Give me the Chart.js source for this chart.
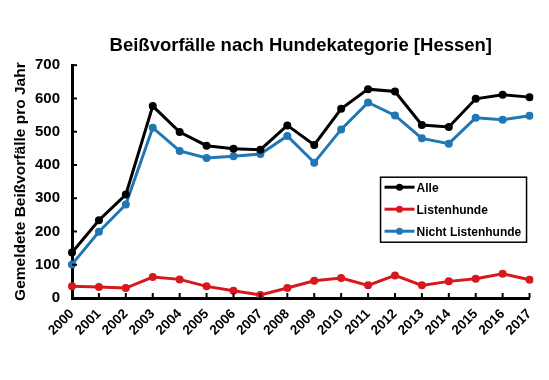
<!DOCTYPE html>
<html>
<head>
<meta charset="utf-8">
<script src="https://cdn.jsdelivr.net/npm/chart.js@4"></script>
<style>
  body { margin: 0; background: #fff; }
  #wrap { width: 549px; height: 380px; }
</style>
</head>
<body>
<div id="wrap"><canvas id="bissChart" width="549" height="380"></canvas></div>
<script>
// Daten
const jahre = ['2000', '2001', '2002', '2003', '2004', '2005', '2006', '2007', '2008',
    '2009', '2010', '2011', '2012', '2013', '2014', '2015', '2016', '2017'];
const alle = [137, 234, 311, 577, 499, 458, 449, 446, 519, 460, 569, 628, 621, 520, 514, 599, 611, 604];
const listenhunde = [35, 33, 30, 63, 56, 35, 22, 9, 30, 52, 60, 38, 68, 38, 50, 58, 73, 55];
const nichtListenhunde = [101, 199, 281, 512, 442, 421, 426, 433, 487, 407, 507, 588, 549, 480, 464, 542, 536, 548];
const yMin = 0, yMax = 700, yStep = 100;

const FONT = 'Liberation Sans, Arial, sans-serif';

// Striche nach innen zeichnen
const innenTicks = {
    id: 'innenTicks',
    afterDraw(chart) {
        const ctx = chart.ctx;
        const x = chart.scales.x, y = chart.scales.y;
        ctx.save();
        ctx.strokeStyle = '#000';
        ctx.lineWidth = 2;
        y.ticks.forEach(t => {
            const py = y.getPixelForValue(t.value);
            ctx.beginPath();
            ctx.moveTo(chart.chartArea.left, py);
            ctx.lineTo(chart.chartArea.left + 5, py);
            ctx.stroke();
        });
        jahre.forEach((j, i) => {
            const px = x.getPixelForValue(i);
            ctx.beginPath();
            ctx.moveTo(px, chart.chartArea.bottom);
            ctx.lineTo(px, chart.chartArea.bottom - 5);
            ctx.stroke();
        });
        ctx.restore();
    }
};

// Legende mit Rahmen im Diagramm
const kastenLegende = {
    id: 'kastenLegende',
    afterDraw(chart) {
        const ctx = chart.ctx;
        const area = chart.chartArea;
        const bx = area.right - 149, by = area.top + 112, bw = 146, bh = 65;
        ctx.save();
        ctx.fillStyle = '#fff';
        ctx.fillRect(bx, by, bw, bh);
        ctx.strokeStyle = '#000';
        ctx.lineWidth = 1.5;
        ctx.strokeRect(bx, by, bw, bh);
        ctx.font = 'bold 12px ' + FONT;
        ctx.textBaseline = 'middle';
        chart.data.datasets.forEach((ds, i) => {
            const ry = by + 10 + i * 22;
            ctx.strokeStyle = ds.borderColor;
            ctx.lineWidth = 3;
            ctx.beginPath();
            ctx.moveTo(bx + 4, ry);
            ctx.lineTo(bx + 34, ry);
            ctx.stroke();
            ctx.fillStyle = ds.borderColor;
            ctx.beginPath();
            ctx.arc(bx + 19, ry, 3.5, 0, Math.PI * 2);
            ctx.fill();
            ctx.fillStyle = '#000';
            ctx.fillText(ds.label, bx + 36, ry + 1);
        });
        ctx.restore();
    }
};

const linie = (label, data, farbe) => ({
    label: label,
    data: data,
    borderColor: farbe,
    backgroundColor: farbe,
    borderWidth: 3,
    pointRadius: 4,
    pointBorderWidth: 0,
    pointBackgroundColor: farbe,
    tension: 0
});

new Chart(document.getElementById('bissChart'), {
    type: 'line',
    data: {
        labels: jahre,
        datasets: [
            linie('Alle', alle, '#000000'),
            linie('Listenhunde', listenhunde, '#d7191f'),
            linie('Nicht Listenhunde', nichtListenhunde, '#1f77b4')
        ]
    },
    options: {
        responsive: false,
        animation: false,
        layout: { padding: { left: 0, right: 19, top: 0, bottom: 0 } },
        plugins: {
            legend: { display: false },
            tooltip: { enabled: false },
            title: {
                display: true,
                fullSize: false,
                text: 'Beißvorfälle nach Hundekategorie [Hessen]',
                color: '#000',
                font: { family: FONT, size: 18.5, weight: 'bold' },
                padding: { top: 35, bottom: 8 }
            }
        },
        scales: {
            x: {
                offset: false,
                grid: { display: false, drawTicks: false },
                border: { display: true, color: '#000', width: 3 },
                ticks: {
                    color: '#000',
                    font: { family: FONT, size: 13.5, weight: 'bold' },
                    minRotation: 45,
                    maxRotation: 45,
                    autoSkip: false,
                    padding: 8
                },
                afterFit(scale) { scale.height = 82; }
            },
            y: {
                min: yMin,
                max: yMax,
                grid: { display: false, drawTicks: false },
                border: { display: true, color: '#000', width: 3 },
                ticks: {
                    stepSize: yStep,
                    color: '#000',
                    font: { family: FONT, size: 15, weight: 'bold' },
                    padding: 12
                },
                title: {
                    display: true,
                    text: 'Gemeldete Beißvorfälle pro Jahr',
                    color: '#000',
                    font: { family: FONT, size: 15.5, weight: 'bold' },
                    padding: { top: 11, bottom: 0 }
                },
                afterFit(scale) { scale.width = 72; }
            }
        }
    },
    plugins: [innenTicks, kastenLegende]
});
</script>
</body>
</html>
